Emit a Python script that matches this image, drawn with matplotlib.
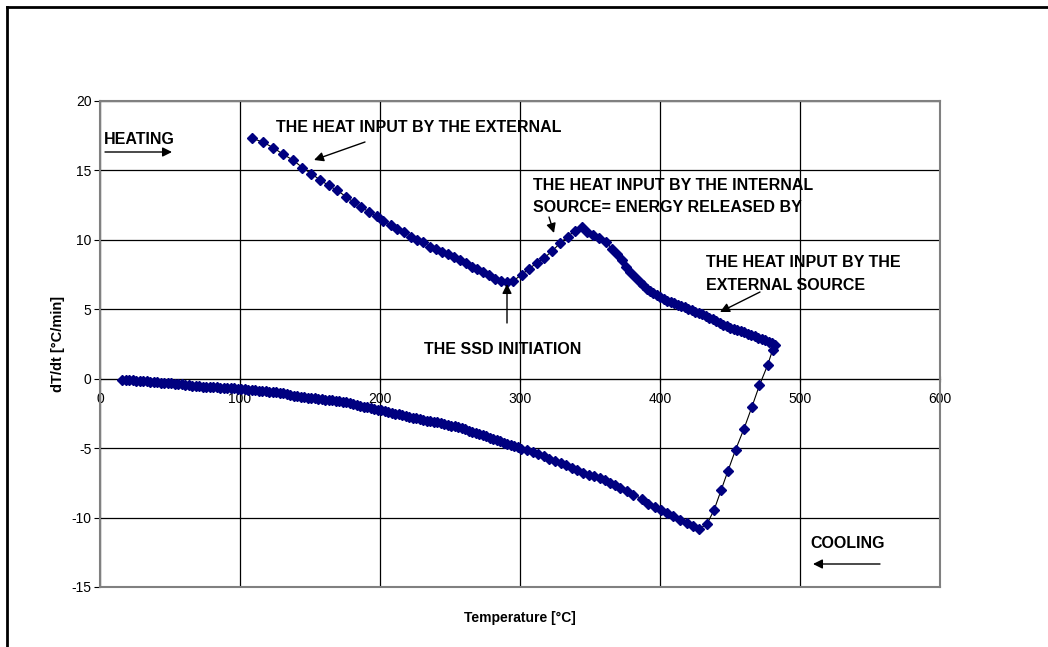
import matplotlib.pyplot as plt
from matplotlib.lines import Line2D
from matplotlib.patches import FancyArrowPatch

plt.rcParams['font.family'] = ['Liberation Sans', 'DejaVu Sans']
plt.rcParams['axes.unicode_minus'] = False

# heating branch: temperature [°C] and dT/dt [°C/min]
heat_T = [108.8, 116.4, 123.6, 130.7, 137.9, 144.5, 151.0, 157.0, 163.3, 169.5,
          175.5, 181.2, 186.7, 192.4, 197.6, 202.4, 207.6, 212.4, 217.1, 221.9,
          226.6, 230.9, 235.7, 240.0, 244.0, 248.8, 252.9, 257.1, 261.4, 265.5,
          269.5, 273.8, 278.1, 282.1, 286.2, 290.5, 295.2, 301.2, 306.4, 311.9,
          317.1, 323.1, 328.6, 334.1, 339.3, 344.0, 348.0, 352.4, 356.6, 361.4,
          365.5, 369.0, 372.6, 375.7, 378.6, 382.1, 385.7, 388.0, 390.5, 393.0,
          395.2, 397.5, 400.0, 402.5, 405.0, 407.5, 410.0, 412.5, 415.0, 417.5,
          420.0, 422.5, 425.0, 427.5, 430.0, 432.5, 435.0, 437.5, 440.0, 442.5,
          445.0, 447.5, 450.0, 452.5, 455.0, 457.5, 460.0, 462.5, 465.0, 467.5,
          470.0, 472.5, 475.0, 477.5, 480.0, 482.0]
heat_v = [17.32, 17.03, 16.65, 16.17, 15.74, 15.21, 14.76, 14.33, 13.92, 13.56,
          13.12, 12.71, 12.35, 11.99, 11.73, 11.37, 11.09, 10.80, 10.55, 10.24,
          10.00, 9.81, 9.52, 9.33, 9.16, 8.97, 8.73, 8.52, 8.32, 8.08,
          7.89, 7.67, 7.44, 7.20, 7.05, 6.93, 7.05, 7.49, 7.92, 8.32,
          8.68, 9.21, 9.76, 10.24, 10.66, 10.89, 10.60, 10.37, 10.12, 9.88,
          9.36, 8.97, 8.57, 8.08, 7.72, 7.31, 6.96, 6.72, 6.48, 6.30,
          6.16, 6.00, 5.85, 5.74, 5.62, 5.52, 5.42, 5.32, 5.25, 5.16,
          5.05, 4.93, 4.82, 4.72, 4.63, 4.52, 4.40, 4.27, 4.14, 4.02,
          3.90, 3.78, 3.66, 3.57, 3.50, 3.43, 3.35, 3.25, 3.15, 3.05,
          2.95, 2.85, 2.76, 2.67, 2.58, 2.45]

# cooling branch (in time order, from the hot end down)
cool_T = [480.5, 476.8, 471.0, 465.5, 460.0, 454.0, 448.6, 443.8, 438.6, 433.4,
          428.1, 423.8, 419.0, 414.3, 409.5, 404.8, 400.5, 396.4, 391.6, 386.9,
          381.0, 376.4, 371.4, 367.9, 364.3, 360.7, 357.0, 353.0, 349.0, 345.0,
          341.0, 337.0, 333.0, 329.0, 325.0, 321.0, 317.0, 313.0, 309.0, 305.0,
          301.0, 298.5, 296.0, 293.5, 291.0, 288.5, 286.0, 283.5, 281.0, 278.5,
          276.0, 273.5, 271.0, 268.5, 266.0, 263.5, 261.0, 258.5, 256.0, 253.5,
          251.0, 248.5, 246.0, 243.5, 241.0, 238.5, 236.0, 233.5, 231.0, 228.5,
          226.0, 223.5, 221.0, 218.5, 216.0, 213.5, 211.0, 208.5, 206.0, 203.5,
          201.0, 198.5, 196.0, 193.5, 191.0, 188.5, 186.0, 183.5, 181.0, 178.5,
          176.0, 173.5, 171.0, 168.5, 166.0, 163.5, 161.0, 158.5, 156.0, 153.5,
          151.0, 148.5, 146.0, 143.5, 141.0, 138.5, 136.0, 133.5, 131.0, 128.5,
          126.0, 123.5, 121.0, 118.5, 116.0, 113.5, 111.0, 108.5, 106.0, 103.5,
          101.0, 98.5, 96.0, 93.5, 91.0, 88.5, 86.0, 83.5, 81.0, 78.5,
          76.0, 73.5, 71.0, 68.5, 66.0, 63.5, 61.0, 58.5, 56.0, 53.5,
          51.0, 48.5, 46.0, 43.5, 41.0, 38.5, 36.0, 33.5, 31.0, 28.5,
          26.0, 23.5, 21.0, 18.5, 16.0]
cool_v = [2.09, 0.96, -0.48, -2.07, -3.60, -5.11, -6.62, -7.99, -9.46, -10.49,
          -10.80, -10.63, -10.40, -10.15, -9.91, -9.68, -9.43, -9.24, -9.00, -8.64,
          -8.35, -8.11, -7.88, -7.68, -7.52, -7.32, -7.16, -7.03, -6.91, -6.76,
          -6.59, -6.42, -6.24, -6.07, -5.91, -5.75, -5.59, -5.44, -5.30, -5.16,
          -5.03, -4.95, -4.87, -4.78, -4.69, -4.60, -4.51, -4.42, -4.33, -4.24,
          -4.15, -4.06, -3.98, -3.89, -3.81, -3.73, -3.65, -3.58, -3.51, -3.44,
          -3.37, -3.31, -3.26, -3.20, -3.15, -3.10, -3.05, -3.01, -2.96, -2.91,
          -2.86, -2.80, -2.75, -2.69, -2.63, -2.57, -2.51, -2.45, -2.39, -2.33,
          -2.28, -2.22, -2.17, -2.12, -2.07, -2.01, -1.94, -1.87, -1.81, -1.75,
          -1.70, -1.66, -1.62, -1.58, -1.55, -1.53, -1.50, -1.47, -1.45, -1.42,
          -1.40, -1.37, -1.34, -1.30, -1.26, -1.21, -1.16, -1.11, -1.06, -1.03,
          -0.99, -0.96, -0.93, -0.91, -0.88, -0.86, -0.83, -0.81, -0.78, -0.76,
          -0.73, -0.71, -0.70, -0.69, -0.67, -0.66, -0.64, -0.63, -0.61, -0.60,
          -0.58, -0.57, -0.55, -0.52, -0.49, -0.47, -0.44, -0.41, -0.38, -0.36,
          -0.34, -0.32, -0.30, -0.28, -0.26, -0.24, -0.22, -0.20, -0.18, -0.16,
          -0.14, -0.12, -0.10, -0.09, -0.08]

x_ticks = [0, 100, 200, 300, 400, 500, 600]
y_ticks = [-15, -10, -5, 0, 5, 10, 15, 20]

fig = plt.figure(figsize=(10.48, 6.47), dpi=100)
ax = fig.add_axes([100 / 1048, 1 - 587 / 647, 840 / 1048, 486 / 647])

T = heat_T + cool_T
v = heat_v + cool_v
ax.plot(T, v, color='black', lw=0.8, marker='D', markersize=5.5,
        markerfacecolor='#000080', markeredgecolor='#000080', zorder=3)

ax.set_xlim(0, 600)
ax.set_ylim(-15, 20)
ax.set_xticks(x_ticks)
ax.set_yticks(y_ticks)
ax.tick_params(axis='x', bottom=False, labelbottom=False)
ax.tick_params(axis='y', direction='out', length=4, labelsize=10, pad=2)
ax.grid(True, color='black', lw=0.9)
ax.set_axisbelow(True)
for s in ax.spines.values():
    s.set_color('#808080')
    s.set_linewidth(1.5)

# x axis crosses at y = 0
sec = ax.secondary_xaxis(15 / 35)
sec.set_xticks(x_ticks)
sec.tick_params(direction='inout', length=5, labelsize=10, pad=7)
sec.spines['bottom'].set_color('black')

ax.set_xlabel('Temperature [°C]', fontsize=10, fontweight='bold', labelpad=17)
ax.set_ylabel('dT/dt [°C/min]', fontsize=10.5, fontweight='bold', labelpad=5)

bold = dict(fontsize=11.5, fontweight='bold', ha='left', va='center')
arw = dict(arrowstyle='-|>', color='black', lw=1, mutation_scale=14, shrinkA=0, shrinkB=0)


def px(x, y):
    return (x / 1048, 1 - y / 647)


fig.text(*px(104, 140), 'HEATING', **bold)
fig.text(*px(276, 128), 'THE HEAT INPUT BY THE EXTERNAL', **bold)
fig.text(*px(533, 185), 'THE HEAT INPUT BY THE INTERNAL', **bold)
fig.text(*px(533, 207), 'SOURCE= ENERGY RELEASED BY', **bold)
fig.text(*px(706, 263), 'THE HEAT INPUT BY THE', **bold)
fig.text(*px(706, 285), 'EXTERNAL SOURCE', **bold)
fig.text(*px(424, 349), 'THE SSD INITIATION', **bold)
fig.text(*px(810, 543), 'COOLING', **bold)

arrows = [((105, 152), (172, 152)),
          ((365, 142), (314, 160)),
          ((549, 217), (554, 233)),
          ((760, 292), (720, 312)),
          ((507, 323), (507, 284)),
          ((880, 564), (813, 564))]
for a, b in arrows:
    fig.add_artist(FancyArrowPatch(px(*a), px(*b), transform=fig.transFigure, **arw))

# outer frame (top and left edges visible)
fig.add_artist(Line2D([7 / 1048, 7 / 1048], [0, 1 - 7 / 647], color='black', lw=2))
fig.add_artist(Line2D([7 / 1048, 1], [1 - 7 / 647, 1 - 7 / 647], color='black', lw=2))

fig.savefig('out.png', dpi=100)
